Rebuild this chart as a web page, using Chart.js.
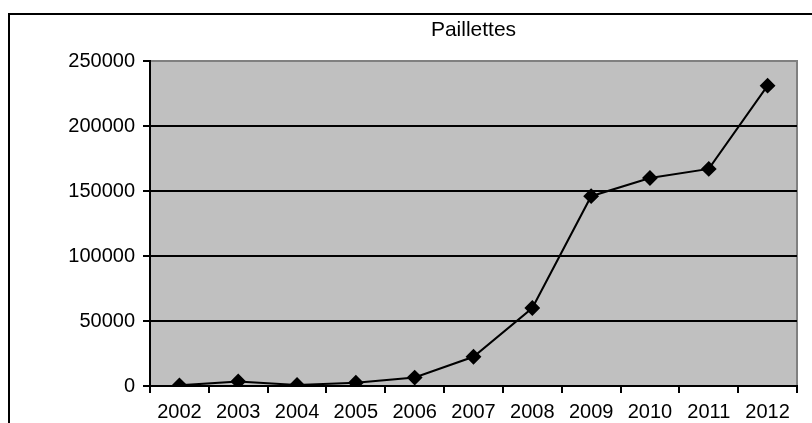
<!DOCTYPE html>
<html>
<head>
<meta charset="utf-8">
<script src="https://cdn.jsdelivr.net/npm/chart.js@4"></script>
<style>
  html, body { margin: 0; padding: 0; background: #fff; }
  #wrap { width: 812px; height: 423px; position: relative; }
</style>
</head>
<body>
<div id="wrap"><canvas id="grafico" width="812" height="423"></canvas></div>
<script>
const annees = ['2002', '2003', '2004', '2005', '2006', '2007', '2008', '2009', '2010', '2011', '2012'];
const paillettes = [500, 3500, 800, 2500, 6500, 22500, 60000, 146000, 160000, 167000, 231000];
const titre = 'Paillettes';

const police = "'Liberation Sans', Arial, sans-serif";

// fond gris, cadre du graphique et titre
const decor = {
  id: 'decor',
  beforeDraw(chart) {
    const { ctx, chartArea: a } = chart;
    ctx.save();
    ctx.fillStyle = '#000';
    ctx.fillRect(8, 13, 804, 2);
    ctx.fillRect(8, 13, 2, 410);
    ctx.fillStyle = '#c0c0c0';
    ctx.fillRect(a.left, a.top, a.right - a.left, a.bottom - a.top);
    ctx.strokeStyle = '#808080';
    ctx.lineWidth = 2;
    ctx.beginPath();
    ctx.moveTo(a.left, a.top);
    ctx.lineTo(a.right, a.top);
    ctx.lineTo(a.right, a.bottom);
    ctx.stroke();
    ctx.fillStyle = '#000';
    ctx.font = '21px ' + police;
    ctx.textAlign = 'center';
    ctx.textBaseline = 'middle';
    ctx.fillText(titre, (a.left + a.right) / 2, 30);
    ctx.restore();
  }
};

new Chart(document.getElementById('grafico'), {
  type: 'line',
  data: {
    labels: annees,
    datasets: [{
      label: titre,
      data: paillettes,
      borderColor: '#000',
      backgroundColor: '#000',
      borderWidth: 2,
      pointStyle: 'rectRot',
      pointRadius: 6.5,
      pointHoverRadius: 6.5,
      tension: 0
    }]
  },
  options: {
    responsive: false,
    animation: false,
    layout: { padding: { top: 61, right: 15, left: 0, bottom: 0 } },
    plugins: {
      legend: { display: false },
      title: { display: false },
      tooltip: { enabled: false }
    },
    scales: {
      x: {
        offset: true,
        afterFit: s => { s.height = 37; },
        grid: { offset: true, drawOnChartArea: false, color: '#000', lineWidth: 2, tickLength: 7 },
        border: { color: '#000', width: 2 },
        ticks: { color: '#000', font: { family: police, size: 20 }, padding: 7, maxRotation: 0 }
      },
      y: {
        min: 0,
        max: 250000,
        afterFit: s => { s.width = 150; },
        grid: {
          color: ctx => ctx.tick && ctx.tick.value === 250000 ? 'rgba(0,0,0,0)' : '#000',
          lineWidth: 2,
          tickLength: 7,
          tickColor: '#000'
        },
        border: { color: '#000', width: 2 },
        ticks: {
          stepSize: 50000,
          color: '#000',
          font: { family: police, size: 20 },
          padding: 8,
          callback: v => String(v)
        }
      }
    }
  },
  plugins: [decor]
});
</script>
</body>
</html>
